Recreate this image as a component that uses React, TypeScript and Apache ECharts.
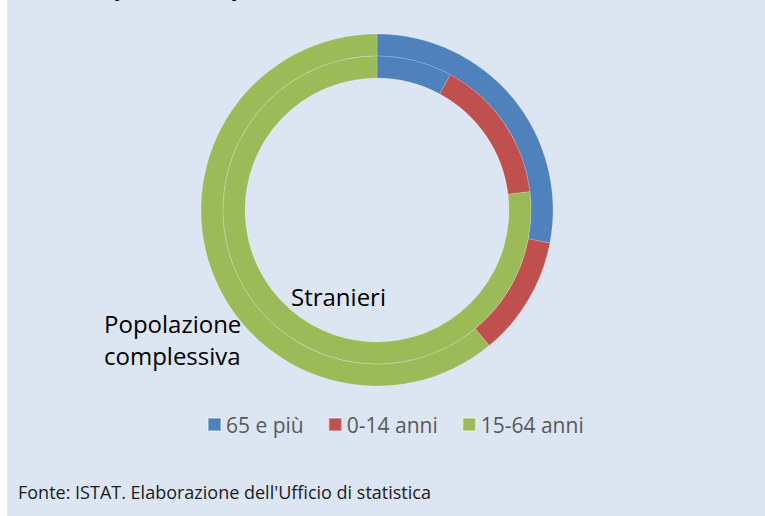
import React, { useEffect, useRef } from "react";
import * as echarts from "echarts";

const categories = ["65 e più", "0-14 anni", "15-64 anni"];
const popolazioneComplessiva = [28.0, 11.0, 61.0];
const stranieri = [7.9, 15.2, 76.9];
const colors = ["#4F81BD", "#C0504D", "#9BBB59"];
const titleText = "Composizione per classe di età e cittadinanza (%)";
const ringLabels = ["Stranieri", "Popolazione\ncomplessiva"];
const sourceText = "Fonte: ISTAT. Elaborazione dell'Ufficio di statistica";

const FONT = "'Open Sans', 'Noto Sans', sans-serif";

export default function App() {
  const ref = useRef<HTMLDivElement>(null);
  useEffect(() => {
    if (!ref.current) return;
    const chart = echarts.init(ref.current, null, { renderer: "svg" });
    const toData = (vals: number[]) =>
      categories.map((name, i) => ({ name, value: vals[i], itemStyle: { color: colors[i] } }));
    chart.setOption({
      animation: false,
      backgroundColor: "#DCE6F2",
      legend: {
        data: categories,
        left: 195,
        top: 409,
        icon: "rect",
        itemWidth: 13,
        itemHeight: 13,
        itemGap: 24,
        textStyle: { color: "#595959", fontSize: 21, fontFamily: FONT },
      },
      series: [
        {
          type: "pie",
          name: "Popolazione complessiva",
          center: [370, 210],
          radius: [154, 176],
          startAngle: 90,
          clockwise: true,
          label: { show: false },
          labelLine: { show: false },
          emphasis: { disabled: true },
          itemStyle: { borderColor: "rgba(255,255,255,0.35)", borderWidth: 0.5 },
          data: toData(popolazioneComplessiva),
        },
        {
          type: "pie",
          name: "Stranieri",
          center: [370, 210],
          radius: [132, 154],
          startAngle: 90,
          clockwise: true,
          label: { show: false },
          labelLine: { show: false },
          emphasis: { disabled: true },
          itemStyle: { borderColor: "rgba(255,255,255,0.35)", borderWidth: 0.5 },
          data: toData(stranieri),
        },
      ],
      graphic: [
        {
          type: "text",
          x: 54,
          y: -14,
          style: {
            text: titleText,
            font: `bold 23.5px ${FONT}`,
            fill: "#000",
            verticalAlign: "middle",
          },
        },
        {
          type: "text",
          x: 284,
          y: 284,
          style: { text: ringLabels[0], font: `24px ${FONT}`, fill: "#000" },
        },
        {
          type: "text",
          x: 97,
          y: 307,
          style: { text: ringLabels[1], font: `24px ${FONT}`, fill: "#000", lineHeight: 32 },
        },
        {
          type: "text",
          x: 11,
          y: 483,
          style: { text: sourceText, font: `18px ${FONT}`, fill: "#1a1a1a" },
        },
      ],
    });
    return () => chart.dispose();
  }, []);
  return (
    <div
      ref={ref}
      style={{ position: "fixed", left: 7, top: 0, width: 758, height: 516 }}
    />
  );
}
